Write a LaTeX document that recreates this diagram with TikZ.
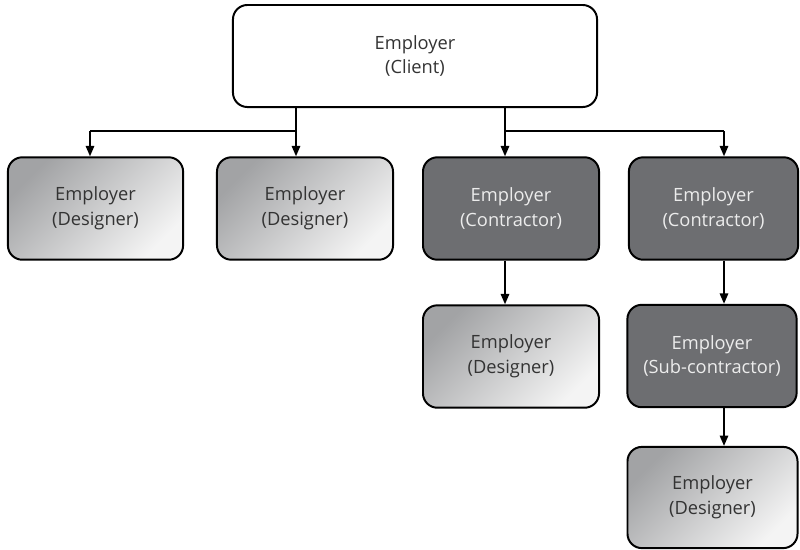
\documentclass[tikz,border=0pt]{standalone}
\usepackage{fontspec}
\setmainfont{Open Sans}
\usetikzlibrary{arrows.meta}
\definecolor{darkbox}{HTML}{6D6E71}
\definecolor{lighttext}{HTML}{ECECEC}
\definecolor{darktext}{HTML}{333333}
\definecolor{shadedark}{HTML}{A2A3A5}
\definecolor{shadelight}{HTML}{F4F4F4}
\tikzset{
  box/.style={draw=black, line width=1.4pt, rounded corners=3.6mm, align=center,
    font=\fontsize{13}{17.5}\selectfont, inner sep=0pt},
  clientbox/.style={box, fill=white, text=darktext, minimum width=91mm, minimum height=25.5mm},
  designerbox/.style={box, top color=shadedark, bottom color=shadelight, shading angle=45,
    text=darktext, minimum height=25.6mm},
  contractorbox/.style={box, fill=darkbox, text=lighttext, minimum height=25.6mm},
  conn/.style={line width=1.3pt, -{Triangle[length=2.6mm,width=2.1mm]}},
  plain/.style={line width=1.3pt}
}
\begin{document}
\begin{tikzpicture}[x=0.025cm, y=-0.025cm]
\useasboundingbox (0,0) rectangle (800,549);
% nodes
\node[clientbox] (client) at (415,56) {Employer\\(Client)};
\node[designerbox, minimum width=43.8mm] (d1) at (95.5,208.5) {Employer\\(Designer)};
\node[designerbox, minimum width=44mm] (d2) at (305,208.5) {Employer\\(Designer)};
\node[contractorbox, minimum width=44mm] (c1) at (511,208.5) {Employer\\(Contractor)};
\node[contractorbox, minimum width=42.3mm] (c2) at (713.5,208.5) {Employer\\(Contractor)};
\node[designerbox, minimum width=44mm] (d3) at (511,356.5) {Employer\\(Designer)};
\node[contractorbox, minimum width=42.3mm] (s1) at (712,356) {Employer\\(Sub-contractor)};
\node[designerbox, minimum width=42.5mm, minimum height=25.3mm] (d4) at (712.5,497.5) {Employer\\(Designer)};
% junction coordinates
\coordinate (jl) at (296,131);
\coordinate (jr) at (505,131);
\coordinate (h1) at (90,131);
\coordinate (h4) at (724,131);
% connectors
\draw[plain] (client.south -| jl) -- (jl);
\draw[plain] (client.south -| jr) -- (jr);
\draw[plain] (jl) -- (h1);
\draw[plain] (jr) -- (h4);
\draw[conn] (h1) -- (h1 |- d1.north);
\draw[conn] (jl) -- (jl |- d2.north);
\draw[conn] (jr) -- (jr |- c1.north);
\draw[conn] (h4) -- (h4 |- c2.north);
\draw[conn] (c1.south -| jr) -- (jr |- d3.north);
\draw[conn] (c2.south -| h4) -- (h4 |- s1.north);
\draw[conn] (s1.south -| h4) -- (h4 |- d4.north);
\end{tikzpicture}
\end{document}
